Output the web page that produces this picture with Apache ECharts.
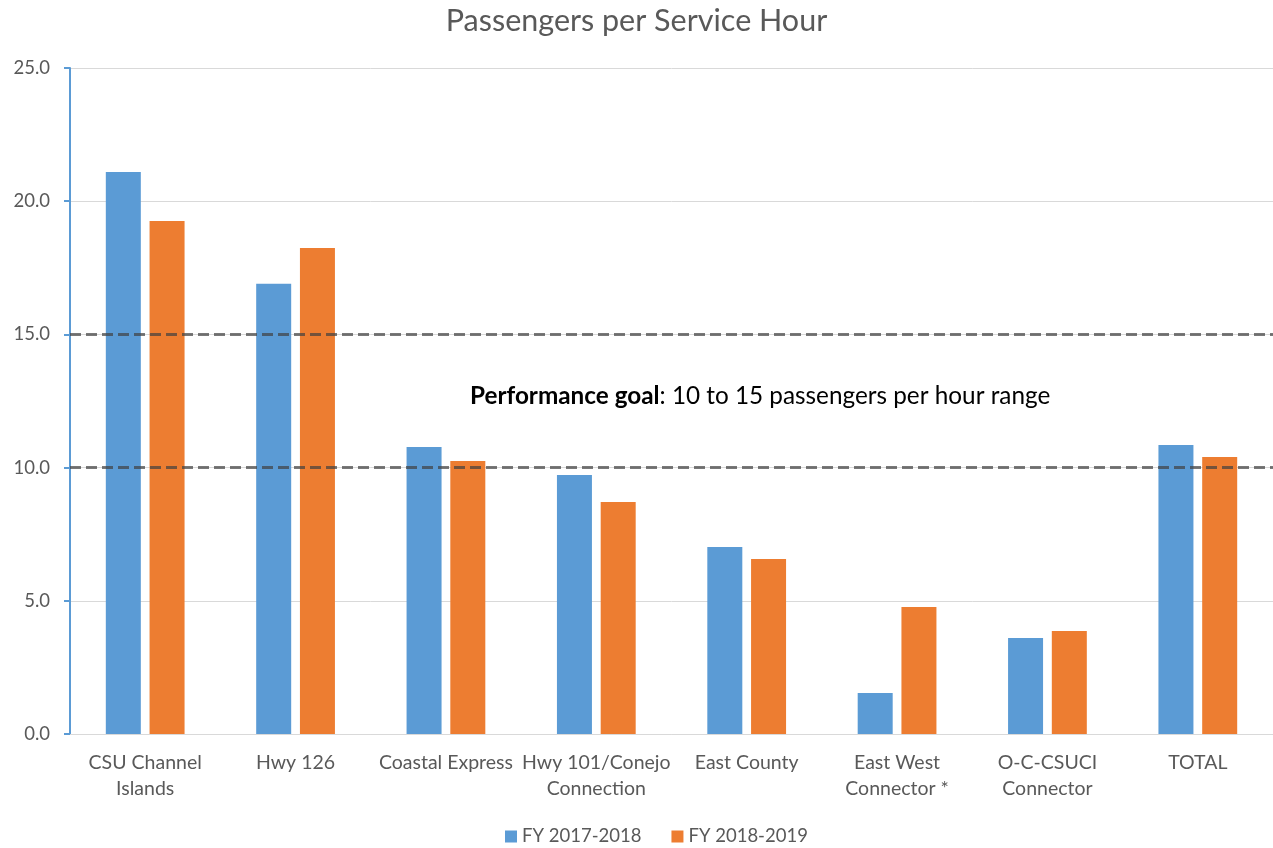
<!DOCTYPE html>
<html><head><meta charset="utf-8">
<script src="https://cdn.jsdelivr.net/npm/echarts@6/dist/echarts.min.js"></script>
<style>html,body{margin:0;padding:0;background:#fff}#c{width:1273px;height:848px}</style>
</head><body><div id="c"></div>
<script>
const categories = ["CSU Channel\nIslands", "Hwy 126", "Coastal Express", "Hwy 101/Conejo\nConnection", "East County", "East West\nConnector *", "O-C-CSUCI\nConnector", "TOTAL"];
const fy1718 = [21.1, 16.9, 10.77, 9.72, 7.02, 1.54, 3.6, 10.85];
const fy1819 = [19.26, 18.24, 10.25, 8.71, 6.57, 4.77, 3.87, 10.4];
const seriesNames = ["FY 2017-2018", "FY 2018-2019"];
const goalLines = [15, 10];
const yTicks = [0, 5, 10, 15, 20, 25];

const font = "Lato, 'Open Sans', sans-serif";
const chart = echarts.init(document.getElementById('c'));
chart.setOption({
  animation: false,
  title: { text: "Passengers per Service Hour", left: 'center', top: 1,
    textStyle: { fontFamily: font, fontSize: 30.5, fontWeight: 'normal', color: '#595959' } },
  grid: { left: 70, right: -2, top: 68, bottom: 114 },
  legend: { top: 822, left: 500, itemWidth: 12, itemHeight: 12, itemGap: 30, icon: 'rect',
    textStyle: { fontFamily: font, fontSize: 18.5, color: '#595959' } },
  xAxis: { type: 'category', data: categories,
    axisLine: { lineStyle: { color: '#d9d9d9', width: 1 } }, axisTick: { show: false },
    axisLabel: { fontFamily: font, fontSize: 19.5, color: '#595959', margin: 16, lineHeight: 26, interval: 0 } },
  yAxis: { type: 'value', min: yTicks[0], max: yTicks[yTicks.length-1], interval: 5,
    axisLine: { show: true, lineStyle: { color: '#5B9BD5', width: 2 } },
    axisTick: { show: true, length: 6, lineStyle: { color: '#5B9BD5', width: 2 } },
    splitLine: { lineStyle: { color: '#d9d9d9', width: 1 } },
    axisLabel: { fontFamily: font, fontSize: 18.5, color: '#595959', margin: 20, formatter: v => v.toFixed(1) } },
  series: [
    { name: seriesNames[0], type: 'bar', data: fy1718, barWidth: 35, barGap: '25%',
      itemStyle: { color: '#5B9BD5' },
      markLine: { silent: true, symbol: 'none', z: 10, label: { show: false },
        lineStyle: { color: 'rgba(64,64,64,0.7)', type: [11, 5], width: 3 },
        data: goalLines.map(v => ({ yAxis: v })) } },
    { name: seriesNames[1], type: 'bar', data: fy1819, barWidth: 35,
      itemStyle: { color: '#ED7D31' } }
  ],
  graphic: [{ type: 'text', left: 470, top: 384, z: 100,
    style: { rich: { b: { fontWeight: 'bold', fontFamily: font, fontSize: 24.3, fill: '#000' },
                     n: { fontFamily: font, fontSize: 24.3, fill: '#000' } },
             text: '{b|Performance goal}{n|: 10 to 15 passengers per hour range}' } }]
});
</script></body></html>
